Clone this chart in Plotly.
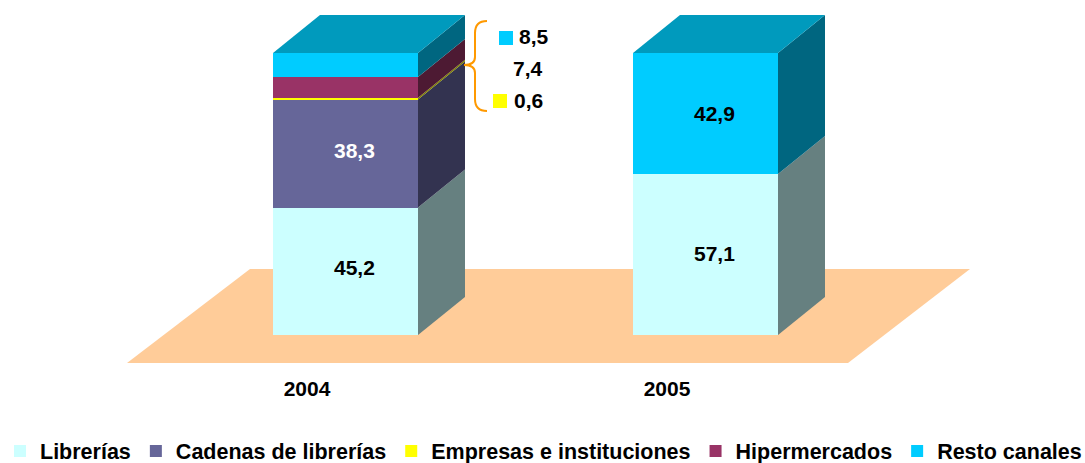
import plotly.graph_objects as go

# ---- data ----
years = ["2004", "2005"]
series = ["Librerías", "Cadenas de librerías", "Empresas e instituciones", "Hipermercados", "Resto canales"]
librerias = [45.2, 57.1]
cadenas = [38.3, 0]
empresas = [0.6, 0]
hiper = [7.4, 0]
resto = [8.5, 42.9]
values = [librerias, cadenas, empresas, hiper, resto]

# ---- styles ----
front = ["#CCFFFF", "#666699", "#FFFF00", "#993366", "#00CCFF"]
side = ["#668080", "#333350", "#808000", "#4D1A33", "#006680"]
top_colour = "#009ABD"
floor_colour = "#FFCC99"
brace_colour = "#FF9900"
FONT = "Liberation Sans, Arial, sans-serif"
W, H = 1085, 463
PLOT_BOTTOM = 370
PX_PER_UNIT = 2.82
ZERO_PX = 335


def yv(py):
    return (ZERO_PX - py) / PX_PER_UNIT


centres = [345.5, 705.5]
label_pos = [307, 667]
half = 72.5
dx = 47
dy = 38 / PX_PER_UNIT

fig = go.Figure()

# front faces
for name, vals, col in zip(series, values, front):
    fig.add_trace(go.Bar(x=centres, y=vals, width=145, name=name,
                         marker=dict(color=col, line=dict(width=0)), hoverinfo="name+y"))

# side faces and top, computed from the stacked values
for b, c in enumerate(centres):
    base = 0
    r = c + half
    for vals, col in zip(values, side):
        v = vals[b]
        if v > 0:
            fig.add_trace(go.Scatter(
                x=[r, r + dx, r + dx, r, r],
                y=[base, base + dy, base + v + dy, base + v, base],
                mode="lines", fill="toself", fillcolor=col, line=dict(width=0, color=col),
                showlegend=False, hoverinfo="skip"))
            base += v
    fig.add_trace(go.Scatter(
        x=[c - half, c + half, r + dx, c - half + dx, c - half],
        y=[base, base, base + dy, base + dy, base],
        mode="lines", fill="toself", fillcolor=top_colour, line=dict(width=0, color=top_colour),
        showlegend=False, hoverinfo="skip"))

# callout swatches
fig.add_trace(go.Scatter(x=[506, 500], y=[yv(38), yv(101)], mode="markers",
                         marker=dict(symbol="square", size=14, color=[front[4], front[2]], line=dict(width=0)),
                         showlegend=False, hoverinfo="skip"))


def fmt(v):
    return f"{v:.1f}".replace(".", ",")


annotations = []


def label(x, y, text, colour="#000000"):
    annotations.append(dict(x=x, y=y, text=f"<b>{text}</b>", showarrow=False, xanchor="center", yanchor="middle",
                            font=dict(family=FONT, size=21, color=colour)))


label(354, librerias[0] / 2 + 1.2, fmt(librerias[0]))
label(354, librerias[0] + cadenas[0] / 2 + 1, fmt(cadenas[0]), "#FFFFFF")
label(714, librerias[1] / 2 + 0.5, fmt(librerias[1]))
label(714, librerias[1] + resto[1] / 2, fmt(resto[1]))
label(534, yv(36.5), fmt(resto[0]))
label(528, yv(68.5), fmt(hiper[0]))
label(528, yv(100.5), fmt(empresas[0]))

# floor
floor = [(127, 363), (848, 363), (970, 269), (250, 269)]
floor_path = "M" + " L".join(f"{x},{yv(y):.3f}" for x, y in floor) + " Z"

# brace
q = lambda x, y: f"{x},{yv(y):.3f}"
brace = (f"M{q(487, 21)} Q{q(475, 21)} {q(475, 33)} L{q(475, 57)} Q{q(475, 65)} {q(464, 65)} "
         f"Q{q(475, 65)} {q(475, 73)} L{q(475, 99)} Q{q(475, 111)} {q(487, 111)}")

fig.update_layout(
    width=W, height=H, autosize=False,
    barmode="stack",
    margin=dict(l=0, r=0, t=0, b=H - PLOT_BOTTOM, pad=0),
    paper_bgcolor="#FFFFFF", plot_bgcolor="#FFFFFF",
    showlegend=True,
    legend=dict(orientation="h", x=0.0, y=0.07, xanchor="left", yanchor="top",
                yref="container", xref="container",
                font=dict(family=FONT, size=21.5, color="#000000", weight="bold"),
                traceorder="normal", bgcolor="rgba(0,0,0,0)", itemclick=False, itemdoubleclick=False),
    xaxis=dict(range=[0, W], showgrid=False, zeroline=False, showline=False, ticks="",
               tickmode="array", tickvals=label_pos, ticktext=years, ticklen=0, ticklabelstandoff=4,
               tickfont=dict(family=FONT, size=21, color="#000000", weight="bold")),
    yaxis=dict(range=[yv(PLOT_BOTTOM), yv(0)], visible=False, showgrid=False, zeroline=False),
    shapes=[
        dict(type="path", path=floor_path, xref="x", yref="y", fillcolor=floor_colour,
             line=dict(width=0), layer="below"),
        dict(type="path", path=brace, xref="x", yref="y", line=dict(color=brace_colour, width=2),
             layer="above"),
    ],
    annotations=annotations,
)

fig.write_html("out.html", post_script="document.body.style.margin='0';", config={"displayModeBar": False})
